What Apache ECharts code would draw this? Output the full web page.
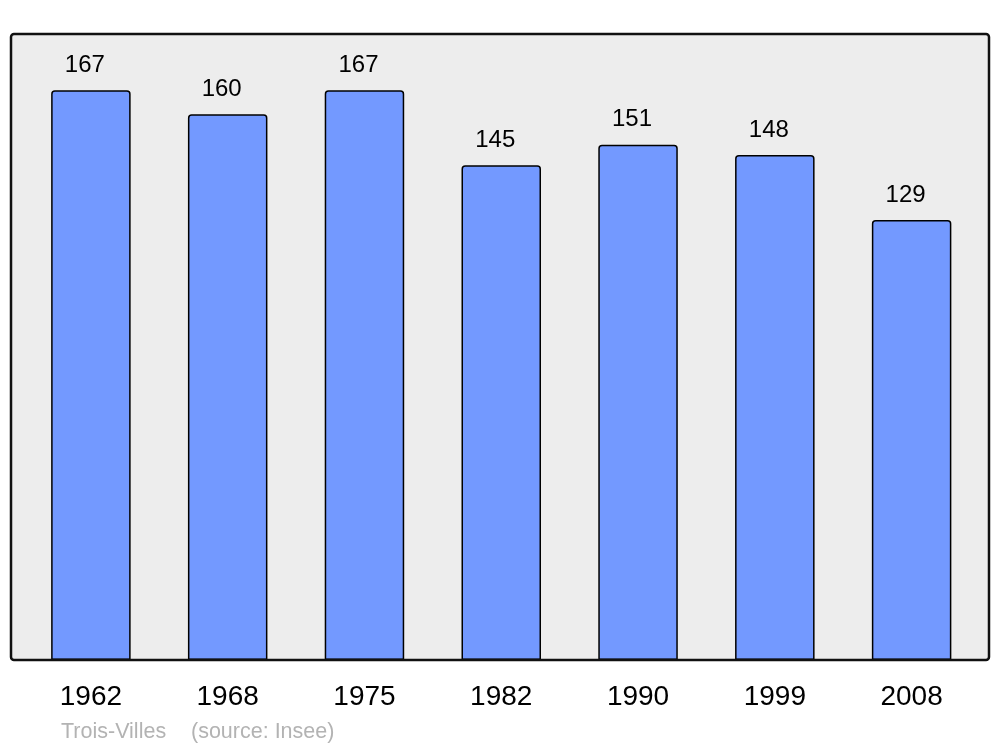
<!DOCTYPE html>
<html>
<head>
<meta charset="utf-8">
<script src="https://cdn.jsdelivr.net/npm/echarts@6/dist/echarts.min.js"></script>
<style>html,body{margin:0;padding:0;background:#fff;}#c{width:1000px;height:747px;}</style>
</head>
<body>
<div id="c"></div>
<script>
var years = ['1962', '1968', '1975', '1982', '1990', '1999', '2008'];
var population = [167, 160, 167, 145, 151, 148, 129];
var placeName = 'Trois-Villes';
var sourceText = '(source: Insee)';

var chart = echarts.init(document.getElementById('c'), null, {renderer: 'canvas'});
var font = '"Liberation Sans", Arial, sans-serif';
chart.setOption({
  animation: false,
  backgroundColor: '#ffffff',
  grid: {left: 22.5, right: 20, top: 34, bottom: 87, containLabel: false},
  xAxis: {
    type: 'category',
    data: years,
    axisLine: {show: false},
    axisTick: {show: false},
    axisLabel: {fontSize: 28, color: '#000', fontFamily: font, margin: 23}
  },
  yAxis: {
    type: 'value',
    min: 0,
    max: 183.5,
    show: false,
    splitLine: {show: false}
  },
  graphic: [
    {type: 'rect', z: -10, shape: {x: 11, y: 34, width: 978, height: 626, r: 3},
     style: {fill: '#ededed', stroke: null}},
    {type: 'rect', z: 100, shape: {x: 11, y: 34, width: 978, height: 626, r: 3},
     style: {fill: null, stroke: '#111', lineWidth: 2.5}},
    {type: 'text', left: 61, top: 721, z: 100,
     style: {text: placeName, fill: '#b3b3b3', font: '21.5px ' + font}},
    {type: 'text', left: 191, top: 721, z: 100,
     style: {text: sourceText, fill: '#b3b3b3', font: '21.5px ' + font}}
  ],
  series: [{
    type: 'bar',
    data: population,
    barWidth: 79.5,
    itemStyle: {color: '#7399ff', borderColor: '#000', borderWidth: 1.5, borderRadius: [3, 3, 0, 0]},
    label: {show: true, position: 'top', distance: 13, offset: [-6, 0],
            fontSize: 24, color: '#000', fontFamily: font}
  }]
});
</script>
</body>
</html>
